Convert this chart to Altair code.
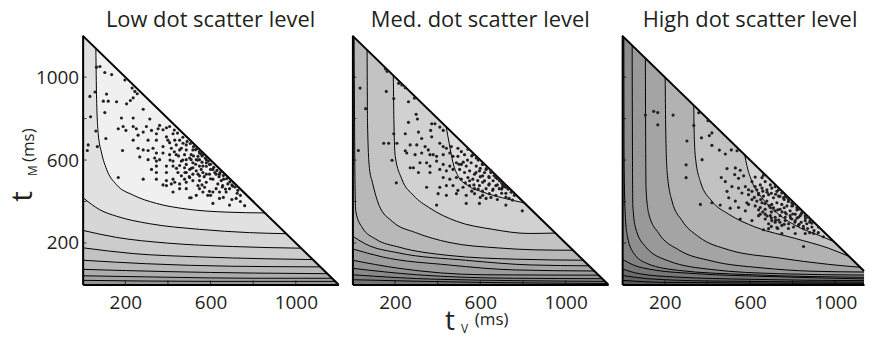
import altair as alt
import pandas as pd

# ---------------- values ----------------
T_MAX = 1200                      # both axes run 0..1200 ms (triangle t_V + t_M <= 1200)
TICKS = [200, 400, 600, 800, 1000]
TICK_LABELS = [200, 600, 1000]
TITLES = ["Low dot scatter level", "Med. dot scatter level", "High dot scatter level"]

# contour lines (t_V, t_M) in ms, listed from the outermost (near origin) to the innermost
LOW_CONTOURS = [
    [(0, 20), (600, 15), (1185, 15)],
    [(0, 42), (400, 35), (800, 30), (1170, 30)],
    [(0, 73), (400, 62), (800, 55), (1148, 52)],
    [(0, 117), (300, 100), (700, 88), (1115, 85)],
    [(0, 177), (237, 149), (548, 133), (860, 124), (1080, 120)],
    [(0, 261), (159, 227), (393, 200), (704, 183), (1025, 175)],
    [(0, 420), (81, 360), (159, 329), (315, 293), (548, 266), (782, 250), (955, 245)],
    [(62, 1138), (65, 915), (73, 728), (89, 634), (112, 556), (159, 481), (237, 431),
     (346, 391), (486, 364), (673, 349), (855, 345)],
]
MED_CONTOURS = [
    [(0, 23), (600, 10), (1195, 5)],
    [(0, 47), (400, 25), (1185, 15)],
    [(0, 78), (300, 47), (750, 30), (1172, 28)],
    [(0, 117), (218, 78), (609, 47), (1155, 45)],
    [(0, 172), (140, 133), (453, 94), (765, 70), (1135, 65)],
    [(0, 234), (62, 195), (218, 152), (530, 117), (842, 94), (1110, 90)],
    [(8, 1192), (10, 800), (12, 500), (16, 351), (47, 273), (109, 219), (219, 180),
     (453, 140), (765, 122), (1083, 117)],
    [(69, 1131), (71, 774), (80, 560), (94, 492), (125, 382), (187, 304), (297, 250),
     (453, 203), (687, 176), (859, 167), (1035, 165)],
    [(192, 1008), (195, 774), (201, 618), (232, 508), (286, 430), (364, 368), (488, 305),
     (658, 266), (828, 246), (952, 248)],
    [(440, 760), (454, 681), (472, 587), (495, 524), (542, 477), (611, 446), (704, 418),
     (807, 393)],
]
HIGH_CONTOURS = [
    [(0, 20), (200, 10), (1195, 5)],
    [(0, 44), (120, 28), (400, 17), (1189, 11)],
    [(0, 75), (80, 52), (250, 36), (600, 25), (1182, 18)],
    [(0, 122), (50, 95), (150, 70), (350, 52), (700, 38), (1174, 26)],
    [(8, 1192), (9, 621), (14, 350), (25, 230), (55, 150), (120, 100), (265, 68),
     (578, 48), (900, 38), (1166, 34)],
    [(47, 1153), (48, 778), (50, 386), (62, 277), (109, 183), (219, 113), (421, 72),
     (734, 52), (1155, 45)],
    [(109, 1091), (110, 778), (112, 465), (125, 340), (172, 246), (265, 167), (421, 113),
     (656, 80), (890, 64), (1140, 60)],
    [(202, 998), (204, 778), (211, 543), (234, 402), (281, 308), (359, 230), (500, 167),
     (734, 128), (968, 97), (1117, 83)],
    [(336, 864), (337, 778), (343, 621), (367, 496), (421, 402), (500, 339), (624, 277),
     (812, 222), (968, 175), (1065, 135)],
    [(575, 625), (585, 574), (609, 496), (656, 418), (734, 339), (827, 277), (921, 238),
     (993, 207)],
]

# grey shade of each band: whole triangle first, then the region inside each contour
LOW_FILLS = ["#959595", "#a2a2a2", "#adadad", "#b8b8b8", "#c2c2c2",
             "#cccccc", "#d6d6d6", "#e1e1e1", "#f0f0f0"]
MED_FILLS = ["#747474", "#7f7f7f", "#898989", "#939393", "#9d9d9d", "#a6a6a6",
             "#afafaf", "#b8b8b8", "#c3c3c3", "#d1d1d1", "#dcdcdc"]
HIGH_FILLS = ["#575757", "#626262", "#6d6d6d", "#787878", "#838383", "#8e8e8e",
              "#999999", "#a4a4a4", "#b2b2b2", "#c2c2c2", "#d2d2d2"]

# single-trial responses (t_V, t_M) in ms
LOW_DOTS = [
    (65, 1048), (81, 1051), (104, 1022), (136, 1012), (198, 986), (245, 931), (232, 947),
    (256, 920), (34, 907), (58, 928), (112, 918), (97, 884), (120, 884), (159, 881),
    (206, 871), (224, 887), (237, 900), (284, 845), (104, 829), (37, 809), (182, 803),
    (237, 803), (315, 798), (361, 767), (190, 762), (237, 762), (299, 762), (167, 751),
    (203, 743), (252, 751), (260, 720), (284, 735), (323, 743), (354, 751), (377, 746),
    (393, 756), (408, 762), (62, 740), (109, 704), (237, 696), (307, 696), (346, 696),
    (393, 712), (424, 727), (455, 696), (471, 681), (439, 673), (486, 649), (455, 649),
    (416, 657), (377, 665), (330, 657), (260, 657), (284, 649), (307, 646), (346, 634),
    (377, 634), (408, 626), (439, 626), (478, 626), (509, 626), (541, 618), (564, 626),
    (580, 602), (548, 602), (517, 587), (486, 579), (455, 574), (424, 571), (393, 571),
    (346, 571), (268, 615), (187, 646), (69, 665), (22, 646), (26, 673), (447, 540),
    (486, 540), (517, 532), (548, 524), (580, 532), (611, 555), (626, 532), (642, 532),
    (517, 563), (564, 571), (595, 579), (611, 508), (580, 493), (548, 501), (517, 501),
    (486, 493), (455, 485), (416, 485), (393, 477), (432, 493), (478, 508), (541, 477),
    (572, 469), (626, 462), (657, 477), (689, 462), (673, 446), (642, 446), (595, 449),
    (564, 446), (393, 501), (346, 508), (361, 602), (307, 602), (284, 508), (167, 516),
    (611, 391), (689, 383), (720, 415), (509, 418), (502, 418), (424, 446), (377, 480),
    (323, 555), (634, 485), (661, 508), (704, 474), (728, 454), (587, 430), (541, 532),
    (556, 555), (533, 548), (486, 602), (463, 595), (424, 595), (346, 595), (338, 610),
    (400, 696), (432, 696), (346, 727), (408, 684), (463, 657), (548, 641), (530, 650),
    (555, 630), (486, 673), (502, 610), (548, 571), (580, 587), (533, 602), (502, 555),
    (548, 634), (517, 649), (455, 462), (424, 508), (393, 540), (346, 540), (564, 540),
    (595, 532), (502, 516), (463, 524), (650, 501), (681, 485), (548, 462), (611, 446),
    (486, 462), (642, 415), (533, 430), (509, 602), (478, 563),
    (430, 745), (445, 730), (470, 710), (490, 690), (505, 680), (520, 665), (535, 655),
    (560, 620), (575, 610), (590, 595), (600, 580), (615, 565), (630, 550), (645, 540),
    (660, 525), (675, 510), (690, 495), (700, 480), (715, 470), (725, 440), (740, 430),
    (520, 620), (540, 600), (560, 590), (580, 570), (600, 555), (620, 540), (640, 520),
    (655, 470), (670, 460), (600, 510), (570, 520), (530, 580), (510, 560), (470, 600),
    (450, 620), (430, 640), (410, 600), (480, 540), (500, 520), (440, 560), (560, 480),
    (600, 430), (660, 420), (700, 410), (740, 400), (760, 380),
]
MED_DOTS = [
    (155, 1040), (163, 1028), (217, 970), (232, 962), (248, 949), (291, 899), (263, 881),
    (194, 897), (159, 931), (36, 947), (62, 848), (299, 821), (305, 798), (372, 775),
    (387, 775), (410, 759), (263, 782), (248, 727), (194, 727), (147, 681), (170, 681),
    (209, 681), (310, 735), (325, 704), (367, 743), (372, 712), (426, 743), (271, 673),
    (302, 673), (341, 665), (356, 649), (379, 626), (410, 681), (426, 665), (441, 657),
    (464, 665), (495, 657), (511, 641), (542, 652), (248, 645), (255, 634), (294, 626),
    (325, 634), (364, 626), (395, 618), (426, 626), (457, 634), (472, 618), (495, 618),
    (526, 626), (565, 626), (581, 610), (186, 599), (28, 646), (271, 563), (286, 563),
    (317, 587), (348, 587), (364, 571), (395, 595), (426, 579), (457, 571), (488, 587),
    (511, 579), (534, 571), (557, 587), (581, 571), (611, 579), (627, 555), (650, 548),
    (673, 516), (310, 540), (364, 540), (410, 555), (441, 548), (472, 555), (503, 555),
    (526, 540), (550, 548), (573, 532), (596, 548), (611, 524), (642, 516), (690, 500),
    (705, 480), (426, 516), (457, 508), (488, 516), (511, 508), (542, 516), (565, 508),
    (588, 501), (611, 493), (642, 485), (673, 477), (704, 469), (720, 469), (206, 490),
    (348, 469), (410, 469), (441, 477), (472, 477), (495, 454), (519, 469), (550, 477),
    (573, 462), (596, 477), (627, 462), (658, 454), (689, 462), (402, 438), (441, 430),
    (488, 438), (534, 430), (573, 438), (611, 430), (642, 438), (673, 430), (720, 422),
    (735, 415), (751, 407), (395, 383), (534, 391), (596, 391), (627, 415), (797, 355),
    (720, 383),
    (560, 620), (590, 600), (610, 580), (630, 560), (650, 540), (665, 525), (680, 510),
    (700, 490), (715, 475), (730, 460), (745, 445), (760, 430), (600, 560), (620, 540),
    (640, 520), (660, 500), (680, 480), (700, 460), (720, 440), (580, 540), (600, 520),
    (620, 500), (640, 480), (660, 460), (550, 500), (570, 480), (590, 460), (610, 450),
    (530, 490), (560, 450), (600, 420), (650, 420), (680, 410), (700, 440), (540, 600),
    (520, 590), (500, 580),
]
HIGH_DOTS = [
    (109, 817), (148, 835), (167, 829), (239, 817), (167, 770), (336, 767), (359, 828),
    (403, 790), (421, 731), (409, 718), (372, 707), (304, 692), (300, 577), (300, 515),
    (421, 671), (456, 648), (512, 649), (484, 629), (539, 645), (375, 602), (492, 559),
    (531, 562), (554, 551), (528, 530), (570, 524), (546, 512), (624, 518), (656, 515),
    (663, 527), (367, 386), (421, 394), (460, 383), (492, 449), (465, 516), (484, 496),
    (515, 472), (546, 465), (578, 472), (593, 457), (562, 441), (500, 418), (531, 402),
    (507, 368), (546, 371), (593, 386), (578, 355), (554, 316), (609, 308), (640, 332),
    (671, 316), (702, 308), (734, 311), (765, 308), (796, 316), (827, 324), (859, 308),
    (890, 296), (663, 264), (687, 269), (726, 274), (749, 246), (812, 246), (859, 246),
    (898, 246), (944, 230), (851, 183), (921, 277), (609, 449), (632, 457), (656, 465),
    (679, 457), (702, 465), (726, 449), (749, 441), (773, 421), (796, 394), (640, 433),
    (663, 426), (687, 433), (710, 418), (734, 426), (757, 418), (781, 410), (804, 390),
    (827, 363), (609, 410), (632, 402), (656, 394), (679, 402), (702, 386), (726, 394),
    (749, 386), (773, 379), (796, 379), (820, 371), (843, 347), (859, 332), (624, 379),
    (648, 371), (671, 363), (695, 371), (718, 355), (741, 363), (765, 347), (788, 355),
    (812, 339), (835, 332), (648, 339), (671, 339), (695, 332), (718, 324), (741, 332),
    (765, 324), (788, 332), (812, 308), (687, 293), (718, 300), (749, 285), (781, 293),
    (804, 277), (827, 285), (851, 269), (648, 480), (671, 496), (695, 480), (718, 472),
    (734, 457), (765, 426), (609, 496), (624, 472), (593, 433), (585, 394), (874, 324),
    (882, 308), (890, 277), (866, 293),
    (640, 440), (660, 450), (680, 445), (700, 440), (720, 435), (740, 425), (760, 410),
    (780, 400), (800, 380), (820, 360), (840, 340), (860, 320), (880, 300), (650, 410),
    (670, 390), (690, 380), (710, 370), (730, 360), (750, 350), (770, 340), (790, 320),
    (810, 300), (830, 290), (850, 280), (870, 270), (660, 350), (680, 330), (700, 320),
    (720, 310), (740, 300), (760, 290), (640, 360), (620, 420), (700, 350), (760, 370),
    (800, 340), (820, 320), (840, 300), (880, 250), (900, 260), (920, 250), (780, 270),
    (730, 270), (700, 280),
]

# ---------------- chart ----------------
W, H = 257, 250                  # full panel size in px
W_LAST = 243                     # last panel is cut by the right page edge, as in the reference
INK = "#231f20"
FONT = "Open Sans"


def cut_at(pts, x_max):
    """Keep the part of a polyline with t_V <= x_max (the page edge cuts panel 3)."""
    out = [p for p in pts if p[0] <= x_max]
    for a, b in zip(pts, pts[1:]):
        if a[0] < x_max < b[0]:
            f = (x_max - a[0]) / (b[0] - a[0])
            out.append((x_max, a[1] + f * (b[1] - a[1])))
    return out


def one_panel(idx, contours, fills, dots, width):
    x_max = T_MAX * width / W            # visible part of the t_V axis
    xscale = alt.Scale(domain=[0, x_max], nice=False, zero=False)
    yscale = alt.Scale(domain=[0, T_MAX], nice=False, zero=False)

    hyp = pd.DataFrame(cut_at([(0, T_MAX), (T_MAX, 0)], x_max), columns=["x", "y"])
    base = pd.DataFrame(cut_at([(0, 0), (T_MAX, 0)], x_max), columns=["x", "y"])
    base["y2"] = T_MAX - base["x"]

    x_axis = alt.Axis(values=TICK_LABELS, format="d", ticks=False, grid=False,
                      domainWidth=2, domainColor="black", labelPadding=9,
                      labelFontSize=19, labelFont=FONT, labelColor=INK, zindex=2,
                      title=None)
    if idx == 0:
        y_axis = alt.Axis(values=TICK_LABELS, format="d", ticks=False, grid=False,
                          domainWidth=2, domainColor="black", labelPadding=4,
                          labelFontSize=19, labelFont=FONT, labelColor=INK, zindex=2,
                          title=None)
    else:
        y_axis = alt.Axis(values=TICK_LABELS, labels=False, ticks=False, grid=False,
                          domainWidth=2, domainColor="black", zindex=2, title=None)

    def X(field="x"):
        return alt.X(f"{field}:Q", scale=xscale, axis=x_axis, title=None)

    def Y(field="y"):
        return alt.Y(f"{field}:Q", scale=yscale, axis=y_axis, title=None, stack=None)

    layers = [
        alt.Chart(base).mark_area(color=fills[0], opacity=1).encode(
            x=X(), y=Y(), y2="y2:Q")
    ]
    rows = []
    for k, pts in enumerate(contours):
        df = pd.DataFrame(cut_at(pts, x_max), columns=["x", "y"])
        df["y2"] = T_MAX - df["x"]          # hypotenuse t_V + t_M = T_MAX
        df["k"] = k
        rows.append(df)
        layers.append(
            alt.Chart(df).mark_area(color=fills[k + 1], opacity=1,
                                    interpolate="monotone").encode(
                x=X(), y=Y(), y2="y2:Q")
        )
    lines = pd.concat(rows)
    layers.append(
        alt.Chart(lines).mark_line(color="black", strokeWidth=1,
                                   interpolate="monotone").encode(
            x=X(), y=Y(), detail="k:N")
    )
    layers.append(
        alt.Chart(hyp).mark_line(color="black", strokeWidth=2).encode(x=X(), y=Y())
    )
    tick_df = pd.DataFrame({"t": TICKS})
    layers.append(
        alt.Chart(tick_df).mark_tick(color="black", thickness=1, size=4,
                                     orient="vertical").encode(
            x=X("t"), y=alt.value(H - 2))
    )
    layers.append(
        alt.Chart(tick_df).mark_tick(color="black", thickness=1, size=4,
                                     orient="horizontal").encode(
            y=Y("t"), x=alt.value(2))
    )
    dot_df = pd.DataFrame(dots, columns=["x", "y"])
    layers.append(
        alt.Chart(dot_df).mark_circle(size=10, color=INK, opacity=1).encode(
            x=X(), y=Y())
    )

    one = pd.DataFrame({"a": [0]})

    def label(txt, px, py, size, angle=0, align="left"):
        return alt.Chart(one).mark_text(
            text=txt, font=FONT, fontSize=size, color=INK, align=align,
            baseline="alphabetic", angle=angle,
        ).encode(x=alt.value(px), y=alt.value(py))

    layers.append(label(TITLES[idx], W / 2, -9, 22, 0, "center"))
    if idx == 0:
        layers += [
            label("t", -51, 167, 30, 270),
            label("M", -46, 141, 12, 270),
            label("(ms)", -49, 127, 17, 270),
        ]
    if idx == 1:
        layers += [
            label("t", 93, 296, 28),
            label("V", 109, 299, 12),
            label("(ms)", 123, 291, 17),
        ]

    return alt.layer(*layers).properties(width=width, height=H)


chart = alt.hconcat(
    one_panel(0, LOW_CONTOURS, LOW_FILLS, LOW_DOTS, W),
    one_panel(1, MED_CONTOURS, MED_FILLS, MED_DOTS, W),
    one_panel(2, HIGH_CONTOURS, HIGH_FILLS, HIGH_DOTS, W_LAST),
    spacing=14, bounds="flush",
).properties(
    padding={"left": 0, "top": 0, "right": 0, "bottom": 0}
).configure_view(stroke=None)

chart.save("out.html", embed_options={"renderer": "svg", "actions": False})
